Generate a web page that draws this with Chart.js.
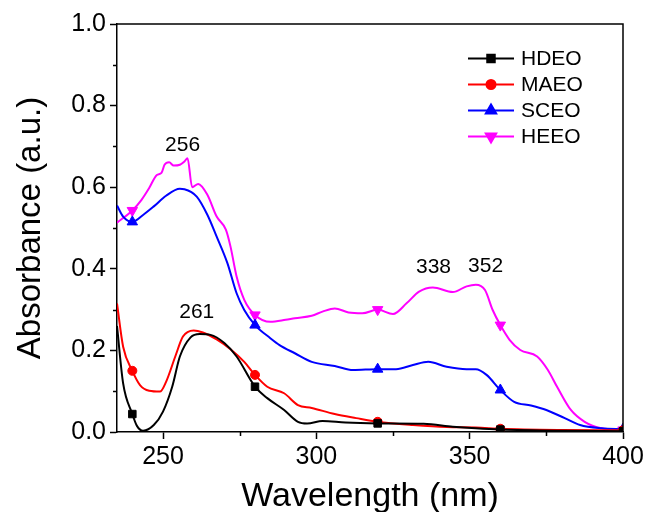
<!DOCTYPE html>
<html>
<head>
<meta charset="utf-8">
<script src="https://cdn.jsdelivr.net/npm/chart.js@4"></script>
<style>
  html, body { margin: 0; padding: 0; background: #fff; }
  #chart { display: block; }
</style>
</head>
<body>
<canvas id="chart" width="648" height="512"></canvas>
<script>
// wavelength (nm) and absorbance
const hdeoX = [235, 237, 240, 241.5, 243.5, 247, 250, 253, 255.5, 259, 262, 265.5, 270, 274, 280, 284, 289.5, 294, 297, 302, 309.5, 320, 335, 344.5, 352, 360, 380, 400];
const hdeoY = [0.26, 0.119, 0.044, 0.015, 0.003, 0.017, 0.05, 0.111, 0.185, 0.232, 0.24, 0.238, 0.218, 0.185, 0.111, 0.083, 0.054, 0.025, 0.021, 0.027, 0.023, 0.021, 0.02, 0.013, 0.009, 0.006, 0.003, 0.002];

const maeoX = [235, 237, 240, 242.5, 245.5, 249, 251, 254, 256.5, 260, 263, 267.5, 272, 276.5, 280, 284, 289.5, 294, 298.5, 306, 313, 320, 331.5, 342.5, 352, 360, 380, 400];
const maeoY = [0.315, 0.209, 0.15, 0.115, 0.101, 0.099, 0.123, 0.185, 0.234, 0.249, 0.244, 0.227, 0.203, 0.172, 0.14, 0.111, 0.095, 0.066, 0.059, 0.044, 0.034, 0.025, 0.017, 0.012, 0.011, 0.008, 0.005, 0.004];

const sceoX = [235, 237, 240, 243.5, 247, 251, 255.5, 257, 261, 264.5, 267.5, 271, 274, 276.5, 280, 285, 288, 293, 298.5, 306, 312, 320, 326, 331.5, 336.5, 342.5, 349, 352, 355.5, 360, 364.5, 370, 375, 381, 386, 393, 400];
const sceoY = [0.555, 0.528, 0.515, 0.532, 0.553, 0.579, 0.596, 0.595, 0.577, 0.532, 0.479, 0.414, 0.34, 0.299, 0.262, 0.23, 0.213, 0.193, 0.172, 0.162, 0.152, 0.154, 0.154, 0.164, 0.172, 0.16, 0.154, 0.154, 0.14, 0.103, 0.074, 0.065, 0.054, 0.034, 0.017, 0.009, 0.007];

const heeoX = [235, 240, 243, 245.5, 248, 249.5, 250.5, 252, 253.5, 255.5, 257, 258, 259.5, 261.5, 264.5, 267.5, 270.5, 272, 274, 276.5, 280, 285, 290, 293, 298.5, 302, 306, 310.5, 315, 320, 325, 329.5, 333.5, 338, 344.5, 349, 352, 355, 357.5, 360, 363, 366.5, 372, 375.5, 378.5, 383, 387.5, 393, 400];
const heeoY = [0.513, 0.543, 0.569, 0.598, 0.63, 0.635, 0.655, 0.661, 0.653, 0.655, 0.663, 0.671, 0.6, 0.608, 0.581, 0.528, 0.496, 0.455, 0.381, 0.324, 0.287, 0.27, 0.275, 0.279, 0.285, 0.295, 0.303, 0.293, 0.291, 0.3, 0.289, 0.316, 0.344, 0.354, 0.343, 0.357, 0.361, 0.348, 0.299, 0.262, 0.226, 0.201, 0.185, 0.152, 0.111, 0.054, 0.025, 0.009, 0.005];

const markerX = [240, 280, 320, 360, 400];
const xTicks = [250, 300, 350, 400];
const xMinorTicks = [275, 325, 375];
const yTicks = [0, 0.2, 0.4, 0.6, 0.8, 1.0];
const yMinorTicks = [0.1, 0.3, 0.5, 0.7, 0.9];

const peakLabels = ['256', '261', '338', '352'];
const peakX = [256.4, 261, 338.2, 355.2];
const peakY = [0.704, 0.293, 0.405, 0.407];

const FONT = "'Liberation Sans', Arial, sans-serif";

function toPoints(xs, ys) {
  return xs.map((x, i) => ({ x: x, y: ys[i] }));
}

function series(label, xs, ys, color, style, radius, rotation) {
  return {
    label: label,
    data: toPoints(xs, ys),
    borderColor: color,
    backgroundColor: color,
    borderWidth: 2,
    cubicInterpolationMode: 'monotone',
    pointStyle: style,
    pointRotation: rotation,
    pointRadius: ctx => (ctx.raw && markerX.includes(ctx.raw.x)) ? radius : 0,
    pointHoverRadius: 0,
    pointBorderWidth: 1,
    markerRadius: radius
  };
}

const extras = {
  id: 'extras',
  afterDraw(chart) {
    const ctx = chart.ctx;
    const a = chart.chartArea;
    const xs = chart.scales.x, ys = chart.scales.y;
    ctx.save();
    // top and right frame
    ctx.strokeStyle = '#000';
    ctx.lineWidth = 1.5;
    ctx.beginPath();
    ctx.moveTo(a.left, a.top);
    ctx.lineTo(a.right, a.top);
    ctx.lineTo(a.right, a.bottom);
    ctx.stroke();
    // minor ticks
    ctx.beginPath();
    yMinorTicks.forEach(v => {
      const y = Math.round(ys.getPixelForValue(v)) + 0.5;
      ctx.moveTo(a.left, y);
      ctx.lineTo(a.left - 4, y);
    });
    xMinorTicks.forEach(v => {
      const x = Math.round(xs.getPixelForValue(v)) + 0.5;
      ctx.moveTo(x, a.bottom);
      ctx.lineTo(x, a.bottom + 4);
    });
    ctx.stroke();
    // peak labels
    ctx.fillStyle = '#000';
    ctx.font = '21px ' + FONT;
    ctx.textAlign = 'center';
    ctx.textBaseline = 'middle';
    peakLabels.forEach((t, i) => {
      ctx.fillText(t, xs.getPixelForValue(peakX[i]), ys.getPixelForValue(peakY[i]));
    });
    // legend: line with marker
    ctx.textAlign = 'left';
    chart.data.datasets.forEach((ds, i) => {
      const y = 58.5 + i * 26;
      ctx.strokeStyle = ds.borderColor;
      ctx.lineWidth = 2;
      ctx.beginPath();
      ctx.moveTo(468, y);
      ctx.lineTo(514, y);
      ctx.stroke();
      Chart.helpers.drawPoint(ctx, {
        pointStyle: ds.pointStyle,
        rotation: ds.pointRotation || 0,
        radius: ds.markerRadius,
        borderWidth: 1
      }, 491, y);
      ctx.fillStyle = ds.borderColor;
      ctx.fill();
      ctx.fillStyle = '#000';
      ctx.fillText(ds.label, 521, y + 1);
    });
    ctx.restore();
  }
};

new Chart(document.getElementById('chart'), {
  type: 'line',
  data: {
    datasets: [
      series('HDEO', hdeoX, hdeoY, '#000000', 'rect', 5.3, 0),
      series('MAEO', maeoX, maeoY, '#ff0000', 'circle', 4.5, 0),
      series('SCEO', sceoX, sceoY, '#0000ff', 'triangle', 6, 0),
      series('HEEO', heeoX, heeoY, '#ff00ff', 'triangle', 6, 180)
    ]
  },
  options: {
    responsive: false,
    animation: false,
    devicePixelRatio: 1,
    layout: { padding: { top: 24, right: 25, left: 0, bottom: 0 } },
    plugins: {
      legend: { display: false },
      tooltip: { enabled: false }
    },
    scales: {
      x: {
        type: 'linear',
        min: 235,
        max: 400,
        afterBuildTicks: s => { s.ticks = xTicks.map(v => ({ value: v })); },
        afterFit: s => { s.height = 80; },
        grid: { drawOnChartArea: false, tickLength: 7, tickWidth: 1.5, tickColor: '#000' },
        border: { color: '#000', width: 1.5 },
        ticks: { color: '#000', font: { family: FONT, size: 25 }, padding: 3, maxRotation: 0 },
        title: { display: true, text: 'Wavelength (nm)', color: '#000', font: { family: FONT, size: 34 }, padding: { top: 6, bottom: -5 } }
      },
      y: {
        min: 0,
        max: 1,
        afterBuildTicks: s => { s.ticks = yTicks.map(v => ({ value: v })); },
        afterFit: s => { s.width = 117; },
        grid: { drawOnChartArea: false, tickLength: 7, tickWidth: 1.5, tickColor: '#000' },
        border: { color: '#000', width: 1.5 },
        ticks: { color: '#000', font: { family: FONT, size: 25 }, padding: 4, callback: v => v.toFixed(1) },
        title: { display: true, text: 'Absorbance (a.u.)', color: '#000', font: { family: FONT, size: 33 }, padding: { top: 11, bottom: 0 } }
      }
    }
  },
  plugins: [extras]
});
</script>
</body>
</html>
